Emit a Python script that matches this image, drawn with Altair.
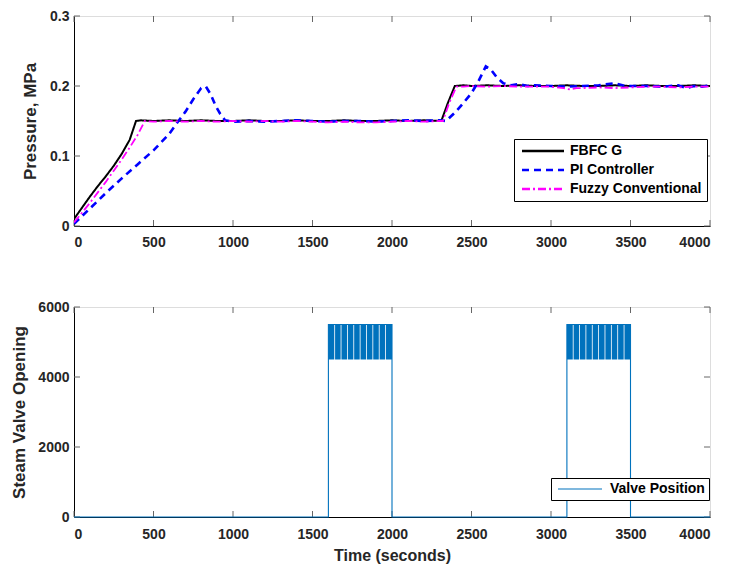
import altair as alt
import pandas as pd

FONT = "Liberation Sans"
W, H = 636, 210

# ---------------- data ----------------
x_ticks = [0, 500, 1000, 1500, 2000, 2500, 3000, 3500, 4000]
p_ticks = [0, 0.1, 0.2, 0.3]
o_ticks = [0, 2000, 4000, 6000]
series_order = ["FBFC G", "PI Controller", "Fuzzy Conventional"]

fb_t = [0, 50, 100, 150, 200, 250, 300, 350, 390,
        420, 500,
        600, 700, 800, 900, 1000, 1100, 1200, 1300, 1400, 1500, 1600, 1700, 1800, 1900, 2000, 2100, 2200,
        2310, 2350, 2395, 2450, 2500,
        2600, 2700, 2800, 2900, 3000, 3100, 3200, 3300, 3400, 3500, 3600, 3700, 3800, 3900, 4000]
fb_v = [0.010, 0.026, 0.042, 0.057, 0.071, 0.086, 0.103, 0.123, 0.150,
        0.151, 0.150,
        0.151, 0.150, 0.151, 0.150, 0.150, 0.151, 0.150, 0.150, 0.151, 0.150, 0.150, 0.151, 0.150, 0.150, 0.151, 0.150, 0.151,
        0.150, 0.175, 0.200, 0.201, 0.200,
        0.201, 0.200, 0.201, 0.200, 0.200, 0.201, 0.200, 0.200, 0.201, 0.200, 0.201, 0.200, 0.200, 0.201, 0.200]

pi_t = [0, 100, 200, 300, 400, 500, 600, 650, 700, 750, 800, 830, 860, 890, 920, 950,
        1000, 1100, 1200, 1300, 1400, 1500, 1600, 1700, 1800, 1900, 2000, 2100, 2200, 2300,
        2340, 2400, 2450, 2500, 2540, 2590, 2620, 2660, 2700, 2750, 2800, 2850, 2900,
        3000, 3100, 3200, 3300, 3400, 3450, 3500, 3600, 3700, 3800, 3850, 3900, 3950, 4000]
pi_v = [0.003, 0.025, 0.047, 0.068, 0.088, 0.108, 0.132, 0.148, 0.163, 0.181, 0.197, 0.199, 0.188, 0.172, 0.160, 0.151,
        0.149, 0.150, 0.149, 0.150, 0.151, 0.150, 0.149, 0.150, 0.150, 0.149, 0.150, 0.151, 0.150, 0.151,
        0.150, 0.163, 0.176, 0.190, 0.205, 0.228, 0.224, 0.212, 0.204, 0.201, 0.203, 0.200, 0.201,
        0.200, 0.199, 0.200, 0.201, 0.204, 0.201, 0.200, 0.200, 0.199, 0.201, 0.197, 0.200, 0.199, 0.201]

fz_t = [0, 50, 100, 150, 200, 250, 300, 350, 400, 445,
        500, 600, 700, 800, 900, 1000, 1100, 1200, 1300, 1400, 1500, 1600, 1700, 1800, 1900, 2000, 2100, 2200, 2300,
        2320, 2360, 2405, 2450, 2500,
        2600, 2700, 2800, 2900, 3000, 3080, 3120, 3160,
        3200, 3300, 3400, 3500, 3600, 3700, 3800, 3900, 4000]
fz_v = [0.005, 0.019, 0.033, 0.048, 0.063, 0.079, 0.095, 0.112, 0.130, 0.150,
        0.149, 0.150, 0.149, 0.150, 0.149, 0.150, 0.149, 0.150, 0.149, 0.150, 0.149, 0.148, 0.149, 0.148, 0.148, 0.149, 0.150, 0.149, 0.150,
        0.150, 0.176, 0.199, 0.199, 0.200,
        0.199, 0.200, 0.199, 0.199, 0.199, 0.197, 0.195, 0.197,
        0.197, 0.198, 0.197, 0.198, 0.199, 0.199, 0.198, 0.199, 0.199]

valve_t = [0, 1600, 1600, 2000, 2000, 3100, 3100, 3500, 3500, 4000]
valve_v = [0, 0, 5500, 5500, 0, 0, 5500, 5500, 0, 0]

band_start = [1600, 1642, 1682, 1722, 1762, 1802, 1842, 1882, 1922, 1962,
              3100, 3142, 3182, 3222, 3262, 3302, 3342, 3382, 3422, 3462]
band_end = [1637, 1677, 1717, 1757, 1797, 1837, 1877, 1917, 1957, 2000,
            3137, 3177, 3217, 3257, 3297, 3337, 3377, 3417, 3457, 3500]
band_low = [4500] * 20
band_high = [5500] * 20

# ---------------- tables ----------------
press = pd.concat([
    pd.DataFrame({"t": fb_t, "p": fb_v, "series": "FBFC G"}),
    pd.DataFrame({"t": pi_t, "p": pi_v, "series": "PI Controller"}),
    pd.DataFrame({"t": fz_t, "p": fz_v, "series": "Fuzzy Conventional"}),
], ignore_index=True)
valve = pd.DataFrame({"t": valve_t, "o": valve_v, "series": "Valve Position"})
bands = pd.DataFrame({"t": band_start, "t2": band_end, "o": band_low, "o2": band_high})
xt = pd.DataFrame({"t": x_ticks})
pt = pd.DataFrame({"p": p_ticks})
ot = pd.DataFrame({"o": o_ticks})

TICK = "#666666"
lab = dict(labelFont=FONT, labelFontSize=14, labelFontWeight="bold", labelColor="#262626",
           titleFont=FONT, titleFontWeight="bold", titleColor="#262626",
           domainColor="black", ticks=False, grid=False)

x_top = alt.X("t:Q", scale=alt.Scale(domain=[0, 4000], nice=False),
              axis=alt.Axis(values=x_ticks, format="d", title=None, labelPadding=9, **lab))
y_top = alt.Y("p:Q", scale=alt.Scale(domain=[0, 0.3], nice=False),
              axis=alt.Axis(values=p_ticks, format=".1~f", title="Pressure, MPa", titleFontSize=17,
                            labelPadding=5, titlePadding=10, **lab))

legend_top = alt.Legend(title=None, orient="none", legendX=440, legendY=123,
                        symbolType="M-1,0H9.5", symbolSize=64, symbolStrokeWidth=2.5,
                        labelFont=FONT, labelFontSize=14, labelFontWeight="bold", labelColor="black",
                        labelLimit=300, strokeColor="black", fillColor="white", padding=5,
                        rowPadding=5, labelOffset=37)
color_top = alt.Color("series:N", scale=alt.Scale(domain=series_order, range=["#000000", "#0000FF", "#FF00FF"]),
                      legend=legend_top)
dash_top = alt.StrokeDash("series:N", scale=alt.Scale(domain=series_order, range=[[1, 0], [7, 5], [8, 3, 2, 3]]),
                          legend=legend_top)


def line_layer(name, width):
    return alt.Chart(press).transform_filter(alt.datum.series == name).mark_line(
        strokeWidth=width, clip=True).encode(x=x_top, y=y_top, color=color_top, strokeDash=dash_top)


def tick_layers(x_enc, y_enc, ydf):
    return [
        alt.Chart(xt).mark_rule(color=TICK).encode(x=x_enc, y=alt.value(H), y2=alt.value(H - 6)),
        alt.Chart(xt).mark_rule(color=TICK).encode(x=x_enc, y=alt.value(0), y2=alt.value(6)),
        alt.Chart(ydf).mark_rule(color=TICK).encode(y=y_enc, x=alt.value(0), x2=alt.value(6)),
        alt.Chart(ydf).mark_rule(color=TICK).encode(y=y_enc, x=alt.value(W - 6), x2=alt.value(W)),
    ]


top = alt.layer(
    *tick_layers(x_top, y_top, pt),
    line_layer("FBFC G", 2),
    line_layer("PI Controller", 2.6),
    line_layer("Fuzzy Conventional", 1.8),
).properties(width=W, height=H)

x_bot = alt.X("t:Q", scale=alt.Scale(domain=[0, 4000], nice=False),
              axis=alt.Axis(values=x_ticks, format="d", title="Time (seconds)", titleFontSize=16,
                            labelPadding=10, titlePadding=6, **lab))
y_bot = alt.Y("o:Q", scale=alt.Scale(domain=[0, 6000], nice=False),
              axis=alt.Axis(values=o_ticks, format="d", title="Steam Valve Opening", titleFontSize=17,
                            labelPadding=5, titlePadding=9, **lab))
legend_bot = alt.Legend(title=None, orient="none", legendX=477, legendY=171,
                        symbolType="M-1,0H10", symbolSize=64, symbolStrokeWidth=1.2,
                        labelFont=FONT, labelFontSize=14, labelFontWeight="bold", labelColor="black",
                        labelLimit=300, strokeColor="black", fillColor="white", padding=4, labelOffset=41)
BLUE = "#0072BD"

bottom = alt.layer(
    *tick_layers(x_bot, y_bot, ot),
    alt.Chart(bands).mark_rect(color=BLUE).encode(x=x_bot, x2="t2:Q", y=y_bot, y2="o2:Q"),
    alt.Chart(valve).mark_line(strokeWidth=1.1).encode(
        x=x_bot, y=y_bot,
        color=alt.Color("series:N", scale=alt.Scale(domain=["Valve Position"], range=[BLUE]), legend=legend_bot)),
).properties(width=W, height=H)

chart = alt.vconcat(top, bottom, spacing=81, bounds="flush").resolve_scale(
    color="independent", strokeDash="independent", x="independent", y="independent"
).resolve_legend(color="independent", strokeDash="independent").properties(
    padding={"left": 2, "top": 0, "right": 5, "bottom": 5}
).configure_view(stroke="black", strokeWidth=1).configure(background="white")

chart.save("out.html", embed_options={"renderer": "svg", "actions": False})
